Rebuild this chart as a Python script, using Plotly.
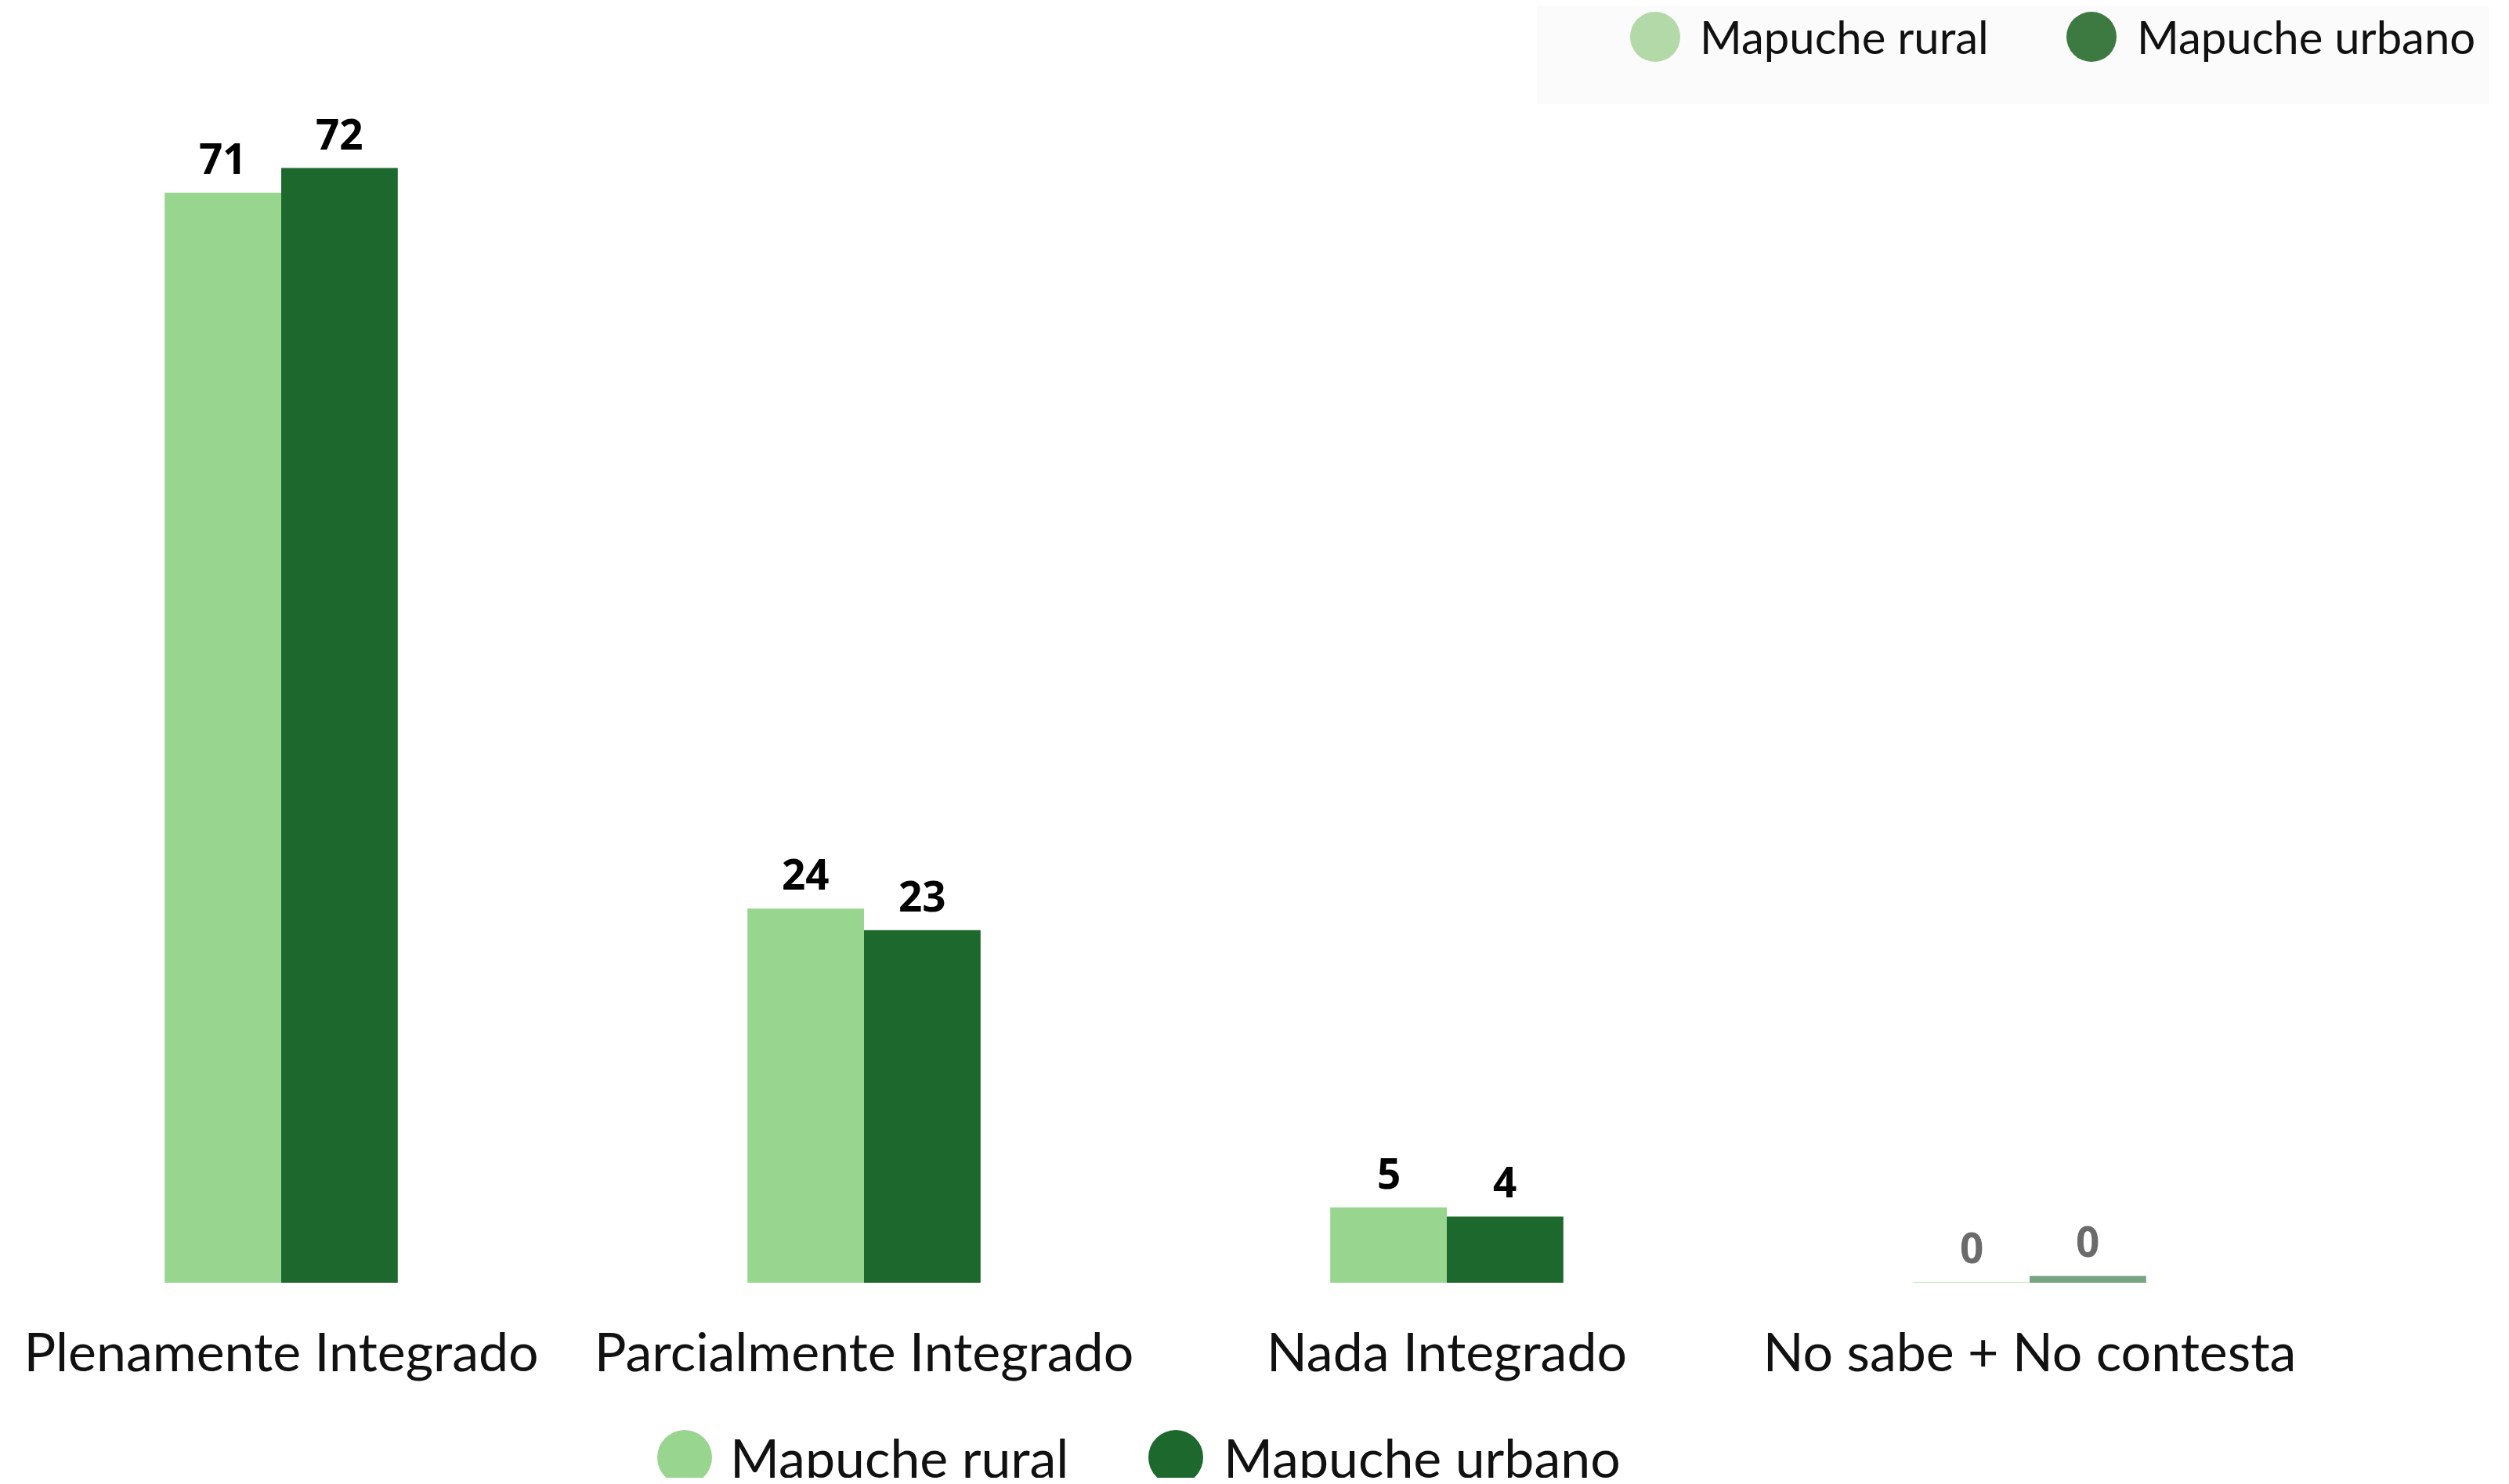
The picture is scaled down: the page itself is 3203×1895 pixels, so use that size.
import plotly.graph_objects as go

# page is rendered with an 8px body margin; work in page coordinates and offset
OFF = 8
PAGE_W, PAGE_H = 3203, 1895
W, H = PAGE_W - 2 * OFF, PAGE_H - 2 * OFF

categories = ["Plenamente Integrado", "Parcialmente Integrado", "Nada Integrado", "No sabe + No contesta"]
rural = [70.8, 24.3, 4.9, 0.05]
urbano = [72.4, 22.9, 4.3, 0.44]
series_names = ["Mapuche rural", "Mapuche urbano"]

c_rural = "#98d690"
c_urbano = "#1c682d"
c_rural_top = "#b2d9a7"
c_urbano_top = "#3d7a42"

bar_opacity = [1, 1, 1, 0.6]
label_colors = ["#000000", "#000000", "#000000", "#6b6b6b"]

BASE_PAGE_Y = 1638
plot_h = BASE_PAGE_Y - OFF
MB = H - plot_h
px_per_unit = 19.66
ymax = plot_h / px_per_unit
cat_px = 744.0
x0_px = 359.0 - OFF
xmin = -x0_px / cat_px
xmax = xmin + W / cat_px

fig = go.Figure()
fig.add_trace(go.Bar(x=categories, y=rural, name=series_names[0],
                     marker=dict(color=c_rural, opacity=bar_opacity, line=dict(width=0)),
                     showlegend=False))
fig.add_trace(go.Bar(x=categories, y=urbano, name=series_names[1],
                     marker=dict(color=c_urbano, opacity=bar_opacity, line=dict(width=0)),
                     showlegend=False))

LABEL_FONT = "Noto Sans"
annotations = []
for i, (vr, vu) in enumerate(zip(rural, urbano)):
    for dx, v in ((-0.1, vr), (0.1, vu)):
        annotations.append(dict(x=i + dx, y=v, xref="x", yref="y", text=f"<b>{round(v)}</b>",
                                showarrow=False, yanchor="bottom", xanchor="center", yshift=6,
                                font=dict(family=LABEL_FONT, size=53, color=label_colors[i])))

def px(xp):
    return (xp - OFF) / W

def py(yp):
    return (plot_h - (yp - OFF)) / plot_h

shapes = []
shapes.append(dict(type="rect", xref="paper", yref="paper", x0=px(1962), x1=px(3177),
                   y0=py(133), y1=py(OFF), fillcolor="#fbfbfb", line=dict(width=0), layer="below"))

TXT_FONT = "Lato"

def legend_item(cx, cy, r, color, text, tx, size):
    shapes.append(dict(type="circle", xref="paper", yref="paper", xsizemode="pixel", ysizemode="pixel",
                       xanchor=px(cx), yanchor=py(cy), x0=-r, x1=r, y0=-r, y1=r,
                       fillcolor=color, line=dict(width=0)))
    annotations.append(dict(x=px(tx), y=py(cy), xref="paper", yref="paper", text=text,
                            showarrow=False, xanchor="left", yanchor="middle",
                            font=dict(family=TXT_FONT, size=size, color="#111111")))

legend_item(2113, 47, 32, c_rural_top, series_names[0], 2168, 58)
legend_item(2670, 47, 32, c_urbano_top, series_names[1], 2726, 58)
legend_item(874, 1861, 35, c_rural, series_names[0], 930, 68)
legend_item(1501, 1861, 35, c_urbano, series_names[1], 1560, 68)

fig.update_layout(
    width=W, height=H,
    margin=dict(l=0, r=0, t=0, b=MB, pad=0),
    barmode="group", bargap=0.6, bargroupgap=0,
    plot_bgcolor="white", paper_bgcolor="white",
    showlegend=False,
    xaxis=dict(type="category", range=[xmin, xmax], showgrid=False, zeroline=False, showline=False,
               ticks="", ticklabelstandoff=44,
               tickfont=dict(family=TXT_FONT, size=68, color="#111111")),
    yaxis=dict(range=[0, ymax], visible=False),
    annotations=annotations,
    shapes=shapes,
)

fig.write_html("out.html")
